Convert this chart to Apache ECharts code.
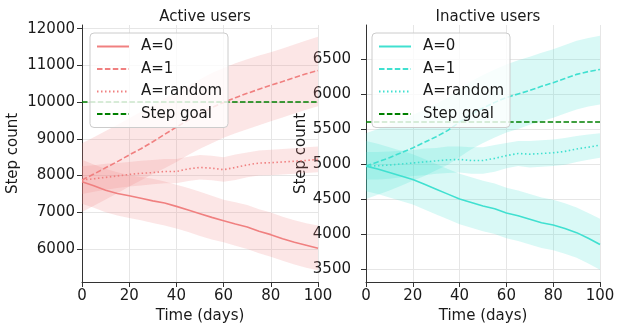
<!DOCTYPE html>
<html><head><meta charset="utf-8">
<script src="https://cdn.jsdelivr.net/npm/echarts@6/dist/echarts.min.js"></script>
<style>html,body{margin:0;padding:0;background:#fff}#c{width:623px;height:331px}</style>
</head><body><div id="c"></div>
<script>
// ---- data ----
const days = [0,5,10,15,20,25,30,35,40,45,50,55,60,65,70,75,80,85,90,95,100];

// Active users
const activeA0      = [7830,7720,7600,7510,7450,7380,7310,7250,7160,7060,6960,6860,6770,6680,6600,6480,6390,6280,6180,6100,6020];
const activeA0Upper = [8430,8300,8180,8090,8010,7960,7910,7840,7750,7660,7560,7450,7340,7270,7200,7080,6990,6880,6780,6700,6640];
const activeA0Lower = [7230,7120,7000,6910,6840,6780,6710,6640,6560,6460,6350,6260,6180,6090,6000,5880,5790,5680,5580,5490,5420];
const activeA1      = [7880,8040,8210,8380,8560,8730,8920,9120,9320,9510,9680,9850,9990,10120,10240,10350,10460,10560,10670,10770,10860];
const activeA1Upper = [8880,9040,9210,9380,9560,9740,9920,10100,10280,10450,10620,10790,10930,11060,11170,11270,11360,11460,11570,11680,11780];
const activeA1Lower = [7010,7180,7350,7520,7700,7870,8040,8200,8370,8560,8730,8880,9030,9150,9260,9370,9480,9580,9690,9790,9890];
const activeAR      = [7880,7910,7950,7990,8030,8060,8080,8110,8110,8180,8220,8200,8160,8220,8290,8340,8350,8370,8390,8410,8440];
const activeARUpper = [8250,8280,8320,8340,8370,8400,8420,8450,8450,8510,8560,8540,8500,8570,8630,8680,8700,8720,8740,8770,8790];
const activeARLower = [7500,7560,7610,7660,7700,7730,7760,7790,7790,7850,7890,7870,7830,7880,7950,8000,8010,8030,8050,8070,8090];
const activeGoal = 10000;

// Inactive users
const inactiveA0      = [4970,4930,4880,4830,4780,4710,4640,4570,4500,4450,4400,4360,4300,4260,4210,4160,4130,4080,4020,3940,3850];
const inactiveA0Upper = [5330,5290,5240,5190,5140,5070,5000,4930,4860,4810,4760,4720,4660,4620,4570,4520,4490,4440,4380,4300,4220];
const inactiveA0Lower = [4610,4570,4520,4470,4420,4350,4280,4210,4140,4090,4040,4000,3940,3900,3850,3800,3770,3720,3660,3580,3490];
const inactiveA1      = [4970,5030,5090,5160,5230,5310,5390,5480,5600,5710,5800,5880,5950,6000,6050,6110,6160,6220,6280,6320,6350];
const inactiveA1Upper = [5440,5500,5560,5630,5700,5780,5860,5950,6070,6180,6270,6350,6420,6480,6530,6590,6640,6700,6760,6800,6830];
const inactiveA1Lower = [4500,4560,4620,4690,4760,4830,4910,4990,5100,5210,5300,5380,5450,5500,5560,5610,5660,5720,5780,5820,5850];
const inactiveAR      = [4970,4975,4985,5000,5015,5030,5045,5060,5065,5050,5050,5080,5120,5150,5140,5150,5160,5180,5215,5240,5270];
const inactiveARUpper = [5170,5170,5180,5190,5200,5220,5230,5250,5250,5240,5240,5270,5300,5330,5330,5340,5350,5370,5400,5420,5440];
const inactiveARLower = [4780,4780,4790,4810,4830,4840,4860,4870,4880,4860,4860,4890,4940,4970,4950,4960,4970,4990,5030,5060,5090];
const inactiveGoal = 5600;

const xTicks = [0,20,40,60,80,100];
const activeYTicks = [6000,7000,8000,9000,10000,11000,12000];
const inactiveYTicks = [3500,4000,4500,5000,5500,6000,6500];
const titles = ['Active users','Inactive users'];
const seriesNames = ['A=0','A=1','A=random','Step goal'];

// ---- build ----
const FONT = 'DejaVu Sans';
const TXT = '#1a1a1a';
const pair = arr => days.map((d,i)=>[d, arr[i]]);

function bandSeries(lower, upper, gi, fill){
  return {
    type:'custom', xAxisIndex:gi, yAxisIndex:gi, silent:true, z:1,
    data: days.map((d,i)=>[d, lower[i], upper[i]]),
    encode:{x:0, y:[1,2]},
    renderItem(params, api){
      if (params.dataIndexInside !== 0) return null;
      const top = days.map((d,i)=>api.coord([d, upper[i]]));
      const bot = days.map((d,i)=>api.coord([d, lower[i]])).reverse();
      return {type:'polygon', shape:{points: top.concat(bot)}, style:{fill:fill, stroke:null}};
    }
  };
}
function lineSeries(name, arr, gi, color, type){
  return {type:'line', name, xAxisIndex:gi, yAxisIndex:gi, data:pair(arr), symbol:'none',
          lineStyle:{color, width:1.6, type}, itemStyle:{color}, z:3};
}
function goalSeries(name, v, gi){
  return {type:'line', name, xAxisIndex:gi, yAxisIndex:gi, data:[[0,v],[100,v]], symbol:'none',
          lineStyle:{color:'#008000', width:1.5, type:[5.5,2.4]}, itemStyle:{color:'#008000'}, z:4};
}
const DASH = [5.5,2.4], DOT = [1.5,2.5];
const red = '#F08080', redFill = 'rgba(240,128,128,0.2)';
const cyan = '#40E0D0', cyanFill = 'rgba(64,224,208,0.2)';

const series = [
  bandSeries(activeA0Lower, activeA0Upper, 0, redFill),
  bandSeries(activeA1Lower, activeA1Upper, 0, redFill),
  bandSeries(activeARLower, activeARUpper, 0, redFill),
  bandSeries(inactiveA0Lower, inactiveA0Upper, 1, cyanFill),
  bandSeries(inactiveA1Lower, inactiveA1Upper, 1, cyanFill),
  bandSeries(inactiveARLower, inactiveARUpper, 1, cyanFill),
  lineSeries(seriesNames[0], activeA0, 0, red, 'solid'),
  lineSeries(seriesNames[1], activeA1, 0, red, DASH),
  lineSeries(seriesNames[2], activeAR, 0, red, DOT),
  goalSeries(seriesNames[3], activeGoal, 0),
  lineSeries('R:'+seriesNames[0], inactiveA0, 1, cyan, 'solid'),
  lineSeries('R:'+seriesNames[1], inactiveA1, 1, cyan, DASH),
  lineSeries('R:'+seriesNames[2], inactiveAR, 1, cyan, DOT),
  goalSeries('R:'+seriesNames[3], inactiveGoal, 1)
];

const grids = [
  {left:82, top:25, width:236, height:257},
  {left:366, top:25, width:234, height:257}
];
const axisLine = {show:true, lineStyle:{color:'#333', width:1}};
const plain = v => String(v);
const xAxes = [0,1].map(gi => ({
  type:'value', gridIndex:gi, min:0, max:100, interval:20,
  name:'Time (days)', nameLocation:'middle', nameGap:25,
  nameTextStyle:{fontFamily:FONT, fontSize:15, color:TXT},
  axisLine, axisTick:{show:true, length:5, lineStyle:{color:'#333'}},
  axisLabel:{fontFamily:FONT, fontSize:15, color:TXT, margin:7, formatter:plain},
  splitLine:{show:true, lineStyle:{color:'#e6e6e6', width:1}}
}));
const yAxes = [
  {min:5100, max:12100, ticks:activeYTicks, gap:61, margin:7},
  {min:3315, max:6985, ticks:inactiveYTicks, gap:53, margin:15}
].map((c,gi) => ({
  type:'value', gridIndex:gi, min:c.min, max:c.max,
  name:'Step count', nameLocation:'middle', nameGap:c.gap,
  nameTextStyle:{fontFamily:FONT, fontSize:15, color:TXT},
  axisLine, axisTick:{show:true, length:5, customValues:c.ticks, lineStyle:{color:'#333'}},
  axisLabel:{fontFamily:FONT, fontSize:15, color:TXT, margin:c.margin, customValues:c.ticks, formatter:plain},
  splitLine:{show:true, lineStyle:{color:'#e6e6e6', width:1}}
}));
const legends = [90, 372].map((x,gi) => ({
  left:x, top:33, orient:'vertical',
  data: seriesNames.map(n => gi ? 'R:'+n : n),
  formatter: n => n.replace(/^R:/, ''),
  itemWidth:32, itemHeight:15, itemGap:7.5,
  padding:[6,6,6,6],
  backgroundColor:'rgba(255,255,255,0.8)', borderColor:'#cccccc', borderWidth:1, borderRadius:4,
  itemStyle:{opacity:0},
  textStyle:{fontFamily:FONT, fontSize:15, color:TXT, padding:[0,0,0,7]},
  selectedMode:false, z:10
}));
const titleOpts = titles.map((t,gi) => ({
  text:t, left: gi ? 483 : 200, textAlign:'center', top:5,
  textStyle:{fontFamily:FONT, fontSize:15, fontWeight:'normal', color:TXT}
}));

const chart = echarts.init(document.getElementById('c'), null, {renderer:'canvas'});
chart.setOption({
  animation:false,
  backgroundColor:'#ffffff',
  title:titleOpts,
  grid:grids, xAxis:xAxes, yAxis:yAxes,
  legend:legends,
  series
});
</script>
</body></html>
